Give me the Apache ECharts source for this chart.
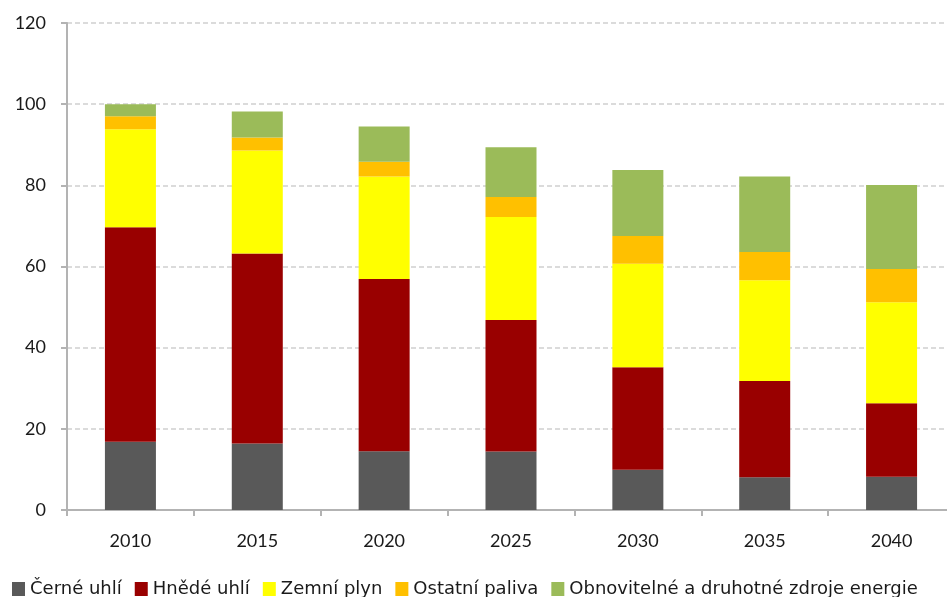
<!DOCTYPE html>
<html>
<head>
<meta charset="utf-8">
<script src="https://cdn.jsdelivr.net/npm/echarts@6/dist/echarts.min.js"></script>
<style>
  html, body { margin: 0; padding: 0; background: #fff; }
  #chart { width: 947px; height: 597px; }
</style>
</head>
<body>
<div id="chart"></div>
<script>
// Years on the horizontal axis
const years = ['2010', '2015', '2020', '2025', '2030', '2035', '2040'];

// Stacked components per year
const cerneUhli = [16.8, 16.4, 14.5, 14.4, 9.9, 8.1, 8.2];
const hnedeUhli = [52.9, 46.8, 42.4, 32.4, 25.3, 23.7, 18.1];
const zemniPlyn = [24.1, 25.4, 25.3, 25.4, 25.5, 24.8, 24.9];
const ostatniPaliva = [3.2, 3.2, 3.6, 4.9, 6.8, 7.0, 8.2];
const obnovitelne = [3.0, 6.4, 8.7, 12.3, 16.3, 18.6, 20.7];

const seriesNames = ['Černé uhlí', 'Hnědé uhlí', 'Zemní plyn', 'Ostatní paliva', 'Obnovitelné a druhotné zdroje energie'];
const seriesData = [cerneUhli, hnedeUhli, zemniPlyn, ostatniPaliva, obnovitelne];
const seriesColors = ['#595959', '#990000', '#FFFF00', '#FFC000', '#9BBB59'];

const axisFont = 'Lato, "Open Sans", sans-serif';
const legendFont = '"DejaVu Sans", "Open Sans", sans-serif';

const chart = echarts.init(document.getElementById('chart'), null, { renderer: 'canvas' });

chart.setOption({
  animation: false,
  backgroundColor: '#ffffff',
  // plot area runs slightly past the right edge of the canvas
  grid: { left: 67, top: 23, width: 888, height: 487, outerBoundsMode: 'none', containLabel: false },
  legend: {
    data: seriesNames,
    left: 7,
    top: 575,
    padding: 5,
    itemWidth: 13,
    itemHeight: 14,
    itemGap: 13,
    icon: 'rect',
    textStyle: { fontFamily: legendFont, fontSize: 18, color: '#1a1a1a' }
  },
  xAxis: {
    type: 'category',
    data: years,
    boundaryGap: true,
    axisLine: { lineStyle: { color: '#b3b3b3', width: 2 } },
    axisTick: { show: true, alignWithLabel: false, length: 6, lineStyle: { color: '#b3b3b3', width: 2 } },
    axisLabel: { fontFamily: axisFont, fontSize: 18, color: '#1a1a1a', margin: 22 },
    splitLine: { show: false }
  },
  yAxis: {
    type: 'value',
    min: 0,
    max: 120,
    interval: 20,
    axisLine: { show: true, lineStyle: { color: '#b3b3b3', width: 2 } },
    axisTick: { show: true, length: 6, lineStyle: { color: '#b3b3b3', width: 2 } },
    axisLabel: { fontFamily: axisFont, fontSize: 18, color: '#1a1a1a', margin: 21 },
    splitLine: { show: true, lineStyle: { color: '#d0d0d0', type: [5, 3], width: 1.5 } }
  },
  series: seriesNames.map((name, i) => ({
    name: name,
    type: 'bar',
    stack: 'total',
    barWidth: 51,
    data: seriesData[i],
    itemStyle: { color: seriesColors[i] }
  }))
});
</script>
</body>
</html>
